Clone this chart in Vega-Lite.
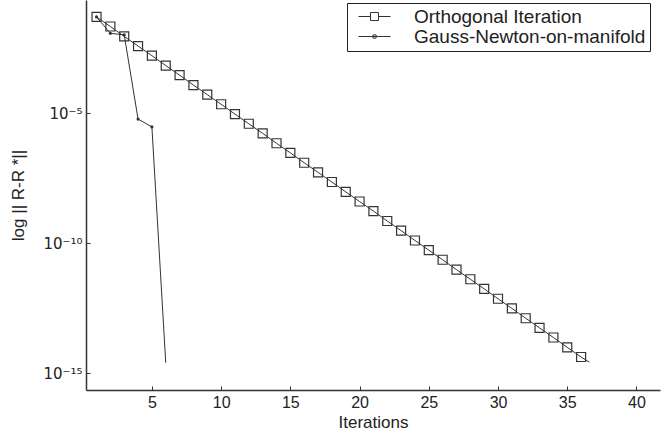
{
  "$schema": "https://vega.github.io/schema/vega-lite/v6.json",
  "width": 574,
  "height": 390,
  "autosize": {"type": "none"},
  "padding": {"left": 86, "top": 0, "right": 1, "bottom": 50},
  "background": "white",
  "config": {
    "view": {"stroke": null},
    "font": "Liberation Sans",
    "axis": {
      "domainColor": "#333333",
      "domainWidth": 1.5,
      "tickColor": "#333333",
      "tickSize": -4,
      "tickWidth": 1,
      "grid": false,
      "labelFont": "Liberation Sans",
      "labelFontSize": 16,
      "labelColor": "#222222",
      "titleFont": "Liberation Sans",
      "titleFontSize": 17,
      "titleFontWeight": "normal",
      "titleColor": "#222222"
    },
    "legend": {
      "title": null,
      "orient": "none",
      "legendX": 261,
      "legendY": 3,
      "strokeColor": "#222222",
      "fillColor": "white",
      "padding": 4,
      "symbolSize": 256,
      "symbolOffset": 14,
      "symbolStrokeWidth": 1,
      "symbolStrokeColor": "#333333",
      "labelFont": "Liberation Sans",
      "labelFontSize": 19,
      "labelColor": "#222222",
      "labelLimit": 400,
      "labelOffset": 30,
      "rowPadding": 0
    }
  },
  "datasets": {
    "convergence": [
      {"method": "Orthogonal Iteration", "iteration": 1, "error": 5.01e-2},
      {"method": "Orthogonal Iteration", "iteration": 2, "error": 2.14e-2},
      {"method": "Orthogonal Iteration", "iteration": 3, "error": 8.91e-3},
      {"method": "Orthogonal Iteration", "iteration": 4, "error": 3.80e-3},
      {"method": "Orthogonal Iteration", "iteration": 5, "error": 1.62e-3},
      {"method": "Orthogonal Iteration", "iteration": 6, "error": 6.76e-4},
      {"method": "Orthogonal Iteration", "iteration": 7, "error": 2.88e-4},
      {"method": "Orthogonal Iteration", "iteration": 8, "error": 1.20e-4},
      {"method": "Orthogonal Iteration", "iteration": 9, "error": 5.13e-5},
      {"method": "Orthogonal Iteration", "iteration": 10, "error": 2.19e-5},
      {"method": "Orthogonal Iteration", "iteration": 11, "error": 9.12e-6},
      {"method": "Orthogonal Iteration", "iteration": 12, "error": 3.89e-6},
      {"method": "Orthogonal Iteration", "iteration": 13, "error": 1.66e-6},
      {"method": "Orthogonal Iteration", "iteration": 14, "error": 6.92e-7},
      {"method": "Orthogonal Iteration", "iteration": 15, "error": 2.95e-7},
      {"method": "Orthogonal Iteration", "iteration": 16, "error": 1.23e-7},
      {"method": "Orthogonal Iteration", "iteration": 17, "error": 5.25e-8},
      {"method": "Orthogonal Iteration", "iteration": 18, "error": 2.24e-8},
      {"method": "Orthogonal Iteration", "iteration": 19, "error": 9.33e-9},
      {"method": "Orthogonal Iteration", "iteration": 20, "error": 3.98e-9},
      {"method": "Orthogonal Iteration", "iteration": 21, "error": 1.70e-9},
      {"method": "Orthogonal Iteration", "iteration": 22, "error": 7.08e-10},
      {"method": "Orthogonal Iteration", "iteration": 23, "error": 3.02e-10},
      {"method": "Orthogonal Iteration", "iteration": 24, "error": 1.26e-10},
      {"method": "Orthogonal Iteration", "iteration": 25, "error": 5.37e-11},
      {"method": "Orthogonal Iteration", "iteration": 26, "error": 2.29e-11},
      {"method": "Orthogonal Iteration", "iteration": 27, "error": 9.55e-12},
      {"method": "Orthogonal Iteration", "iteration": 28, "error": 4.07e-12},
      {"method": "Orthogonal Iteration", "iteration": 29, "error": 1.74e-12},
      {"method": "Orthogonal Iteration", "iteration": 30, "error": 7.24e-13},
      {"method": "Orthogonal Iteration", "iteration": 31, "error": 3.09e-13},
      {"method": "Orthogonal Iteration", "iteration": 32, "error": 1.29e-13},
      {"method": "Orthogonal Iteration", "iteration": 33, "error": 5.50e-14},
      {"method": "Orthogonal Iteration", "iteration": 34, "error": 2.34e-14},
      {"method": "Orthogonal Iteration", "iteration": 35, "error": 9.77e-15},
      {"method": "Orthogonal Iteration", "iteration": 36, "error": 4.17e-15},
      {"method": "Orthogonal Iteration", "iteration": 36.6, "error": 2.63e-15},
      {"method": "Gauss-Newton-on-manifold", "iteration": 1, "error": 5.01e-2},
      {"method": "Gauss-Newton-on-manifold", "iteration": 2, "error": 1.17e-2},
      {"method": "Gauss-Newton-on-manifold", "iteration": 3, "error": 1.02e-2},
      {"method": "Gauss-Newton-on-manifold", "iteration": 4, "error": 5.9e-6},
      {"method": "Gauss-Newton-on-manifold", "iteration": 5, "error": 2.95e-6},
      {"method": "Gauss-Newton-on-manifold", "iteration": 6, "error": 2.5e-15}
    ]
  },
  "data": {"name": "convergence"},
  "encoding": {
    "x": {
      "field": "iteration",
      "type": "quantitative",
      "scale": {"domain": [0.24, 41.7], "nice": false, "zero": false},
      "axis": {
        "title": "Iterations",
        "values": [5, 10, 15, 20, 25, 30, 35, 40],
        "labelPadding": 8,
        "titlePadding": 4
      }
    },
    "y": {
      "field": "error",
      "type": "quantitative",
      "scale": {"type": "log", "domain": [2.24e-16, 0.224], "nice": false},
      "axis": {
        "title": "log || R-R *||",
        "values": [1e-15, 1e-10, 1e-5],
        "labelExpr": "datum.value < 5e-13 ? '10⁻¹⁵' : datum.value < 5e-8 ? '10⁻¹⁰' : '10⁻⁵'",
        "labelFont": "DejaVu Sans",
        "labelFontSize": 15,
        "labelPadding": 8,
        "titleX": -68,
        "titleY": 195,
        "titleAngle": 270,
        "titleAlign": "center",
        "titleBaseline": "middle"
      }
    }
  },
  "layer": [
    {
      "mark": {"type": "line", "color": "#333333", "strokeWidth": 1, "clip": true},
      "encoding": {"detail": {"field": "method"}}
    },
    {
      "transform": [{"filter": "datum.method === 'Orthogonal Iteration' && datum.iteration % 1 === 0"}],
      "mark": {"type": "point", "shape": "square", "filled": false, "color": "#333333", "strokeWidth": 1.2, "opacity": 1, "size": 81}
    },
    {
      "transform": [{"filter": "datum.method === 'Gauss-Newton-on-manifold' && datum.iteration < 6"}],
      "mark": {"type": "point", "shape": "circle", "filled": true, "color": "#333333", "opacity": 1, "size": 10}
    },
    {
      "description": "Key: line-with-marker glyphs for each method (no marks of its own).",
      "transform": [{"filter": "datum.iteration < 0"}],
      "mark": {"type": "point", "filled": false, "color": "#333333", "strokeWidth": 1, "opacity": 1},
      "encoding": {
        "shape": {
          "field": "method",
          "type": "nominal",
          "scale": {
            "domain": ["Orthogonal Iteration", "Gauss-Newton-on-manifold"],
            "range": [
              "M-2,0H-0.5M0.5,0H2M-0.5,-0.5H0.5V0.5H-0.5Z",
              "M-2,0H2M-0.2,-0.2H0.2V0.2H-0.2Z"
            ]
          }
        }
      }
    }
  ]
}
